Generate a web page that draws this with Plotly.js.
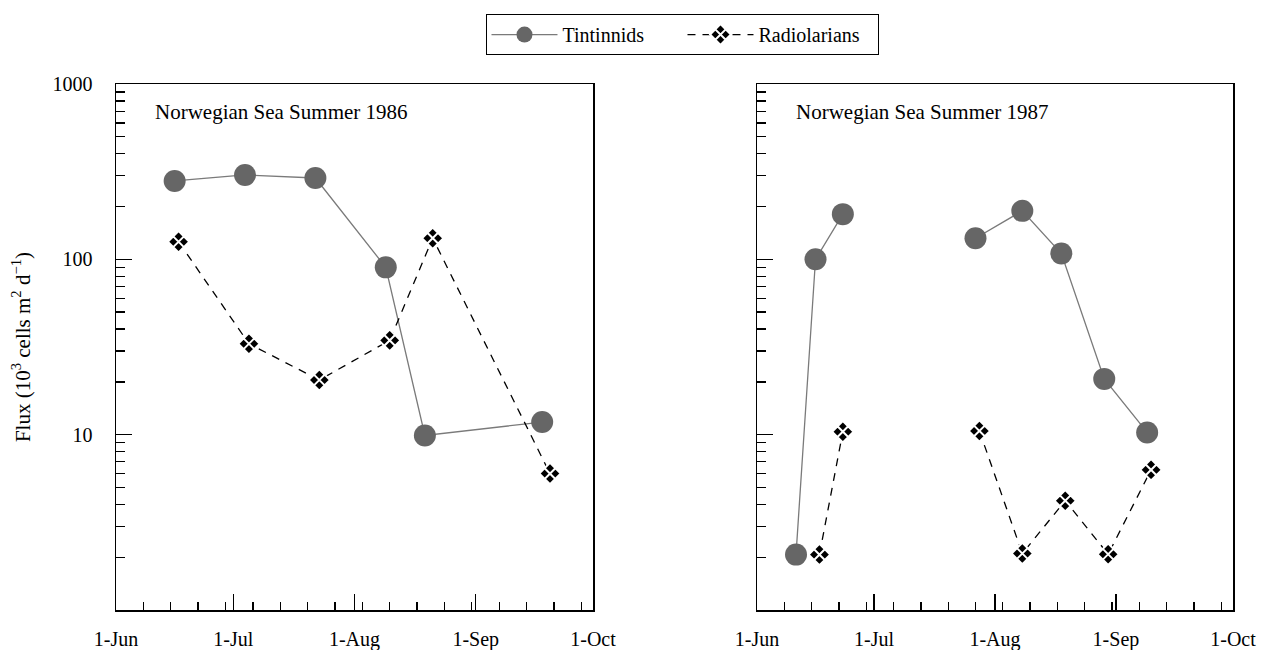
<!DOCTYPE html>
<html>
<head>
<meta charset="utf-8">
<script src="https://cdn.plot.ly/plotly-3.0.1.min.js"></script>
<style>html,body{margin:0;padding:0;background:#fff;}#chart{width:1280px;height:650px;}</style>
</head>
<body>
<div id="chart"></div>
<script>
// ---- data ----
const tint86Dates = ['1986-06-16','1986-07-04','1986-07-22','1986-08-09','1986-08-19','1986-09-18'];
const tint86 = [280, 303, 291, 90, 9.9, 11.8];
const rad86Dates = ['1986-06-17','1986-07-05','1986-07-23','1986-08-10','1986-08-21','1986-09-20'];
const rad86 = [126, 33, 20.5, 34.5, 132, 6.0];

// 1987 series have a sampling gap (null) between late June and late July
const tint87Dates = ['1987-06-11','1987-06-16','1987-06-23','1987-07-10','1987-07-27','1987-08-08','1987-08-18','1987-08-29','1987-09-09'];
const tint87 = [2.07, 100, 181, null, 132, 189, 108, 20.8, 10.3];
const rad87Dates = ['1987-06-17','1987-06-23','1987-07-10','1987-07-28','1987-08-08','1987-08-19','1987-08-30','1987-09-10'];
const rad87 = [2.07, 10.4, null, 10.5, 2.1, 4.2, 2.08, 6.3];

const seriesNames = ['Tintinnids', 'Radiolarians'];
const panelTitles = ['Norwegian Sea Summer 1986', 'Norwegian Sea Summer 1987'];
const monthTicks86 = ['1986-06-01','1986-07-01','1986-08-01','1986-09-01','1986-10-01'];
const monthTicks87 = ['1987-06-01','1987-07-01','1987-08-01','1987-09-01','1987-10-01'];
const monthLabels = ['1-Jun','1-Jul','1-Aug','1-Sep','1-Oct'];
const yTickVals = [10, 100, 1000];
const yTickText = ['10', '100', '1000'];
const decades = [1, 10, 100];
const minorSteps = [2, 3, 4, 5, 6, 7, 8, 9];
const yTitle = 'Flux (10<sup>3</sup> cells m<sup>2</sup> d<sup>\u22121</sup>)';

// ---- styles ----
const FONT = '"Liberation Serif", "Times New Roman", Times, serif';
const tintStyle = {
  mode: 'lines+markers',
  line: {color: '#7a7a7a', width: 1.3},
  marker: {symbol: 'circle', size: 22, color: '#666666', line: {width: 0}}
};
const radStyle = {
  mode: 'lines+markers',
  line: {color: '#000000', width: 1.3, dash: '8px,7px'},
  marker: {symbol: 'diamond-x', size: 16.5, color: '#000000', line: {color: '#ffffff', width: 2}}
};

const minorY = [];
decades.forEach(d => minorSteps.forEach(s => minorY.push(d * s)));

const traces = [
  Object.assign({x: tint86Dates, y: tint86, name: seriesNames[0], xaxis: 'x', yaxis: 'y', legendgroup: 't', connectgaps: false}, tintStyle),
  Object.assign({x: rad86Dates, y: rad86, name: seriesNames[1], xaxis: 'x', yaxis: 'y', legendgroup: 'r', connectgaps: false}, radStyle),
  Object.assign({x: tint87Dates, y: tint87, name: seriesNames[0], xaxis: 'x2', yaxis: 'y2', legendgroup: 't', showlegend: false, connectgaps: false}, tintStyle),
  Object.assign({x: rad87Dates, y: rad87, name: seriesNames[1], xaxis: 'x2', yaxis: 'y2', legendgroup: 'r', showlegend: false, connectgaps: false}, radStyle)
];

function xAxis(domain, anchor, ticks) {
  return {
    type: 'date', domain: domain, anchor: anchor,
    range: [ticks[0], ticks[ticks.length - 1]],
    tickmode: 'array', tickvals: ticks, ticktext: monthLabels,
    ticks: 'inside', ticklen: 16, tickwidth: 1.3, tickcolor: '#000',
    minor: {ticks: 'inside', ticklen: 8, tickwidth: 1.3, tickcolor: '#000', tick0: ticks[0], dtick: 7 * 86400000, showgrid: false},
    showline: true, linecolor: '#000', linewidth: 1.5, mirror: true,
    showgrid: false, zeroline: false,
    tickfont: {family: FONT, size: 20, color: '#000'},
    ticklabelstandoff: 10
  };
}
function yAxis(anchor, showLabels) {
  return {
    type: 'log', range: [0, 3], anchor: anchor,
    tickmode: 'array', tickvals: yTickVals, ticktext: yTickText,
    showticklabels: showLabels,
    ticks: 'inside', ticklen: 16, tickwidth: 1.3, tickcolor: '#000',
    minor: {ticks: 'inside', ticklen: 9, tickwidth: 1.3, tickcolor: '#000', tickmode: 'array', tickvals: minorY, showgrid: false},
    showline: true, linecolor: '#000', linewidth: 1.5, mirror: true,
    showgrid: false, zeroline: false,
    tickfont: {family: FONT, size: 20, color: '#000'},
    ticklabelstandoff: 18
  };
}

const layout = {
  width: 1280, height: 650,
  margin: {l: 116, r: 47, t: 84, b: 40},
  paper_bgcolor: '#fff', plot_bgcolor: '#fff',
  font: {family: FONT, size: 20, color: '#000'},
  showlegend: true,
  legend: {
    orientation: 'h', x: 0.5076, xanchor: 'center', y: 1.133, yanchor: 'top',
    bordercolor: '#000', borderwidth: 1, bgcolor: '#fff',
    itemwidth: 66, entrywidth: 115,
    font: {family: FONT, size: 20, color: '#000'}
  },
  xaxis: xAxis([0, 0.42704], 'y', monthTicks86),
  xaxis2: xAxis([0.57386, 1], 'y2', monthTicks87),
  yaxis: Object.assign(yAxis('x', true), {title: {text: yTitle, font: {family: FONT, size: 21, color: '#000'}, standoff: 16}}),
  yaxis2: yAxis('x2', false),
  annotations: panelTitles.map((t, i) => ({
    text: t, showarrow: false,
    xref: i === 0 ? 'x domain' : 'x2 domain', yref: i === 0 ? 'y domain' : 'y2 domain',
    x: 0.077, y: 0.947, xanchor: 'left', yanchor: 'middle',
    font: {family: FONT, size: 21, color: '#000'}
  }))
};

Plotly.newPlot('chart', traces, layout, {displayModeBar: false, staticPlot: true});
</script>
</body>
</html>
